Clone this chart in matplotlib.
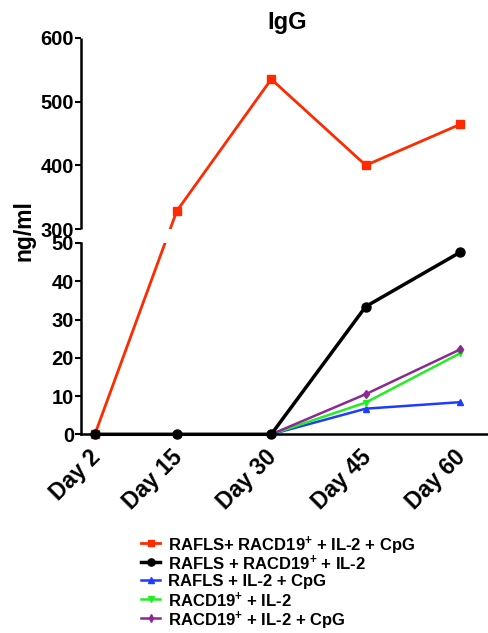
import numpy as np
import matplotlib
matplotlib.use('Agg')
import matplotlib.pyplot as plt
import matplotlib.transforms as mtransforms
from matplotlib.lines import Line2D

plt.rcParams['font.family'] = ['Liberation Sans', 'DejaVu Sans']
plt.rcParams['font.weight'] = 'bold'
plt.rcParams['mathtext.fontset'] = 'custom'
plt.rcParams['mathtext.bf'] = 'Liberation Sans:bold'
plt.rcParams['mathtext.rm'] = 'Liberation Sans:bold'
plt.rcParams['mathtext.default'] = 'bf'

# data
days = [2, 15, 30, 45, 60]
day_labels = ['Day 2', 'Day 15', 'Day 30', 'Day 45', 'Day 60']
rafls_racd19_il2_cpg = [0, 328.6, 535, 400.2, 464.4]
rafls_racd19_il2 = [0, 0, 0, 33.4, 47.6]
rafls_il2_cpg = [0, 0, 0, 6.7, 8.4]
racd19_il2 = [0, 0, 0, 8.3, 21.2]
racd19_il2_cpg = [0, 0, 0, 10.5, 22.2]

lower_ticks = [0, 10, 20, 30, 40, 50]
upper_ticks = [300, 400, 500, 600]

# broken y axis: 0-50 and 300-600 on one axes
GAP = 3.58
K = 0.1669


def fwd(y):
    y = np.asarray(y, dtype=float)
    return np.where(y <= 50, y,
                    np.where(y <= 300, 50 + (y - 50) / 250 * GAP,
                             50 + GAP + (y - 300) * K))


def inv(z):
    z = np.asarray(z, dtype=float)
    return np.where(z <= 50, z,
                    np.where(z <= 50 + GAP, 50 + (z - 50) / GAP * 250,
                             300 + (z - 50 - GAP) / K))


fig = plt.figure(figsize=(4.88, 6.33), dpi=100)
ax = fig.add_axes([81 / 488, 1 - 434.3 / 633, 1 - 81 / 488, (434.3 - 37.7) / 633])
ax.set_yscale('function', functions=(fwd, inv))

series = [
    ('RAFLS+ RACD19$^{+}$ + IL-2 + CpG', rafls_racd19_il2_cpg, '#ff2a00', 's', 6, 2.0, 2),
    ('RAFLS + RACD19$^{+}$ + IL-2', rafls_racd19_il2, 'black', 'o', 6.5, 2.5, 2.5),
    ('RAFLS + IL-2 + CpG', rafls_il2_cpg, '#1e3cff', '^', 5, 1.8, 2),
    ('RACD19$^{+}$ + IL-2', racd19_il2, '#22ee22', 'v', 5, 1.8, 2.1),
    ('RACD19$^{+}$ + IL-2 + CpG', racd19_il2_cpg, '#8b2a92', 'd', 4.5, 1.8, 2.2),
]

for label, vals, col, mk, ms, lw, z in series:
    ax.plot(days, vals, color=col, lw=lw, marker=mk, ms=ms,
            clip_on=False, zorder=z)

# white band at the break
ax.axhspan(50, 300, color='white', zorder=3, lw=0)

ax.set_xlim(-0.2, 64.4)
ax.set_ylim(0, 600)

ax.spines['top'].set_visible(False)
ax.spines['right'].set_visible(False)
ax.spines['left'].set_bounds(0, 50)
ax.spines['left'].set_linewidth(1.8)
ax.spines['bottom'].set_linewidth(1.8)
ax.spines['left'].set_zorder(4)
trans = mtransforms.blended_transform_factory(ax.transAxes, ax.transData)
ax.plot([0, 0], [300, 600], color='black', lw=1.8, transform=trans,
        clip_on=False, zorder=4, solid_capstyle='butt')

ax.set_yticks(lower_ticks + upper_ticks)
ax.set_yticklabels([str(t) for t in lower_ticks + upper_ticks])
ax.yaxis.set_minor_locator(matplotlib.ticker.NullLocator())
ax.tick_params(axis='y', length=4, width=1.5, labelsize=14.5, pad=1)

ax.set_xticks(days)
ax.set_xticklabels(day_labels, rotation=45, ha='right', va='top',
                   rotation_mode='anchor')
ax.tick_params(axis='x', length=0, labelsize=16.5, pad=8)
for lab in ax.get_xticklabels() + ax.get_yticklabels():
    lab.set_fontweight('bold')
for lab in ax.get_xticklabels():
    lab.set_transform(lab.get_transform() + mtransforms.ScaledTranslation(-6 / 100, 0, fig.dpi_scale_trans))

fig.text(287 / 488, 1 - 22 / 633, 'IgG', ha='center', va='center',
         fontsize=17, fontweight='bold')
fig.text(24 / 488, 1 - 231 / 633, 'ng/ml', ha='center', va='center',
         rotation=90, fontsize=16.5, fontweight='bold')

# legend drawn by hand so the rows are evenly spaced
row_y = 542.7
for label, vals, col, mk, ms, lw, z in series:
    yf = 1 - row_y / 633
    fig.add_artist(Line2D([141 / 488, 160 / 488], [yf, yf], color=col, lw=lw,
                          transform=fig.transFigure))
    fig.add_artist(Line2D([150.5 / 488], [yf], color=col, marker=mk, ms=ms * 0.8,
                          lw=0, transform=fig.transFigure))
    fig.text(168 / 488, yf, label, ha='left', va='center_baseline',
             fontsize=12, fontweight='bold')
    row_y += 18.8

fig.savefig('out.png', dpi=100)
